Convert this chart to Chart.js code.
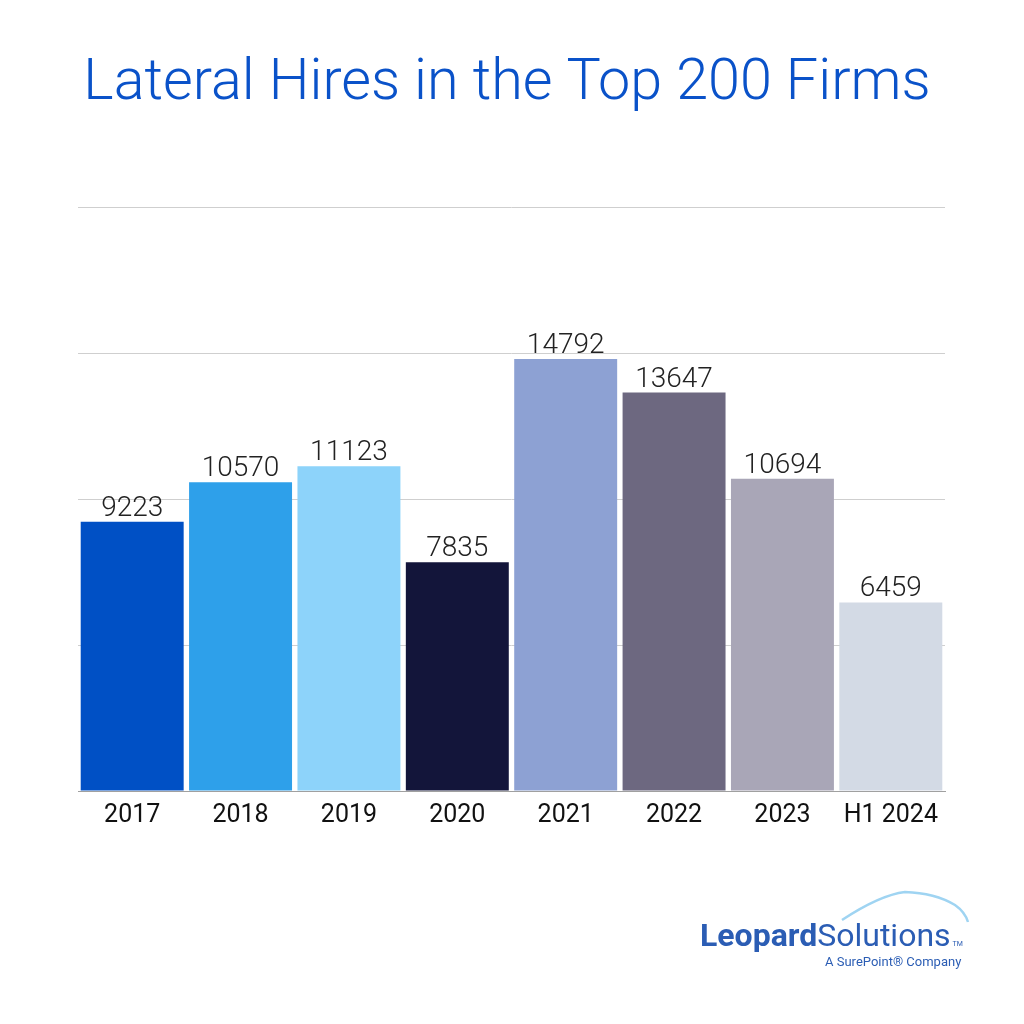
<!DOCTYPE html>
<html>
<head>
<meta charset="utf-8">
<script src="https://cdn.jsdelivr.net/npm/chart.js@4/dist/chart.umd.min.js"></script>
<style>
  html, body { margin: 0; padding: 0; background: #fff; }
  #wrap { width: 1024px; height: 1024px; position: relative; }
</style>
</head>
<body>
<div id="wrap"><canvas id="chart"></canvas></div>
<script>
var years = ['2017', '2018', '2019', '2020', '2021', '2022', '2023', 'H1 2024']
var hires = [9223, 10570, 11123, 7835, 14792, 13647, 10694, 6459]
var barColors = ['#0050c5', '#2ea0ea', '#8dd3fa', '#13153a', '#8da1d3', '#6d6880', '#a9a6b7', '#d3dae5']

// title, value labels and logo
var extras = {
  id: 'extras',
  afterDatasetsDraw: function(chart) {
    var ctx = chart.ctx
    ctx.save()
    ctx.fillStyle = '#0a52c9'
    ctx.font = '300 57.5px Roboto'
    ctx.textAlign = 'center'
    ctx.textBaseline = 'alphabetic'
    ctx.fillText('Lateral Hires in the Top 200 Firms', 507, 99)

    var meta = chart.getDatasetMeta(0)
    ctx.fillStyle = '#222'
    ctx.font = '300 28px Roboto'
    meta.data.forEach(function(bar, i) {
      ctx.fillText(String(hires[i]), bar.x, bar.y - 6)
    })

    // logo
    ctx.strokeStyle = '#9fd4f2'
    ctx.lineWidth = 2.5
    ctx.beginPath()
    ctx.moveTo(842, 920)
    ctx.quadraticCurveTo(880, 895, 905, 892)
    ctx.quadraticCurveTo(935, 893, 955, 905)
    ctx.quadraticCurveTo(965, 912, 968, 922)
    ctx.stroke()
    ctx.textAlign = 'left'
    ctx.fillStyle = '#2b5db4'
    ctx.font = 'bold 32px Roboto'
    ctx.fillText('Leopard', 700, 946)
    var w = ctx.measureText('Leopard').width
    ctx.font = '32px Roboto'
    ctx.fillText('Solutions', 700 + w, 946)
    var w2 = ctx.measureText('Solutions').width
    ctx.font = '7px Roboto'
    ctx.fillText('TM', 700 + w + w2 + 2, 946)
    ctx.font = '13px Roboto'
    ctx.fillText('A SurePoint\u00ae Company', 825, 966)
    ctx.restore()
  }
}

new Chart(document.getElementById('chart'), {
  type: 'bar',
  data: {
    labels: years,
    datasets: [{
      data: hires,
      backgroundColor: barColors,
      barPercentage: 0.95,
      categoryPercentage: 1
    }]
  },
  options: {
    responsive: true,
    maintainAspectRatio: false,
    animation: false,
    layout: { padding: { left: 78, right: 79, top: 207, bottom: 191 } },
    plugins: { legend: { display: false }, tooltip: { enabled: false } },
    scales: {
      x: {
        grid: { display: false },
        border: { color: '#a0a0a0', width: 1 },
        ticks: { color: '#111', font: { family: 'Roboto', size: 25, weight: '400' }, padding: 2 }
      },
      y: {
        min: 0, max: 20000,
        ticks: { display: false, stepSize: 5000 },
        border: { display: false },
        grid: { color: '#cfcfcf', lineWidth: 1, drawTicks: false }
      }
    }
  },
  plugins: [extras]
})
</script>
</body>
</html>
